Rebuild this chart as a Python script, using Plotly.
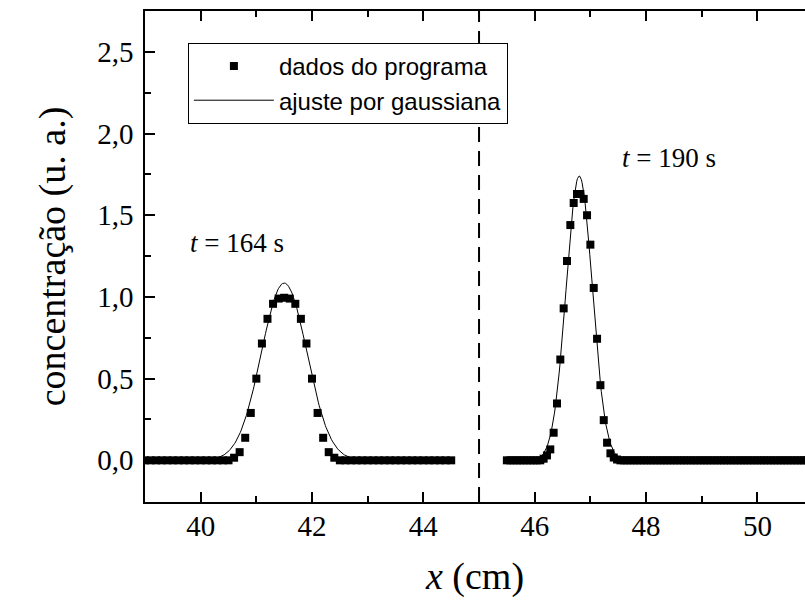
import numpy as np
import plotly.graph_objects as go

# ---------------- data ----------------
left_x = [39.0, 39.1, 39.2, 39.3, 39.4, 39.5, 39.6, 39.7, 39.8, 39.9,
          40.0, 40.1, 40.2, 40.3, 40.4, 40.5, 40.6, 40.7, 40.8, 40.9,
          41.0, 41.1, 41.2, 41.3, 41.4, 41.5, 41.6, 41.7, 41.8, 41.9,
          42.0, 42.1, 42.2, 42.3, 42.4, 42.5, 42.6, 42.7, 42.8, 42.9,
          43.0, 43.1, 43.2, 43.3, 43.4, 43.5, 43.6, 43.7, 43.8, 43.9,
          44.0, 44.1, 44.2, 44.3, 44.4, 44.5]
left_y = [0, 0, 0, 0, 0, 0, 0, 0, 0, 0,
          0, 0, 0, 0, 0, 0, 0.016, 0.05, 0.138, 0.29,
          0.50, 0.715, 0.866, 0.958, 0.99, 0.995, 0.99, 0.958, 0.866, 0.715,
          0.50, 0.29, 0.138, 0.05, 0.016, 0, 0, 0, 0, 0,
          0, 0, 0, 0, 0, 0, 0, 0, 0, 0,
          0, 0, 0, 0, 0, 0]

right_x = [45.50, 45.56, 45.62, 45.68, 45.74, 45.80, 45.86, 45.92, 45.98, 46.04,
           46.10, 46.16, 46.22, 46.28, 46.34, 46.40, 46.46, 46.52, 46.58, 46.64,
           46.70, 46.76, 46.82, 46.88, 46.94, 47.00, 47.06, 47.12, 47.18, 47.24,
           47.30, 47.36, 47.42, 47.48, 47.54, 47.60, 47.66, 47.72, 47.78, 47.84,
           47.90, 47.96, 48.02, 48.08, 48.14, 48.20, 48.26, 48.32, 48.38, 48.44,
           48.50, 48.56, 48.62, 48.68, 48.74, 48.80, 48.86, 48.92, 48.98, 49.04,
           49.10, 49.16, 49.22, 49.28, 49.34, 49.40, 49.46, 49.52, 49.58, 49.64,
           49.70, 49.76, 49.82, 49.88, 49.94, 50.00, 50.06, 50.12, 50.18, 50.24,
           50.30, 50.36, 50.42, 50.48, 50.54, 50.60, 50.66, 50.72, 50.78, 50.84,
           50.90, 50.96, 51.02]
right_y = [0, 0, 0, 0, 0, 0, 0, 0, 0, 0,
           0, 0.01, 0.03, 0.067, 0.169, 0.348, 0.617, 0.93, 1.22, 1.44,
           1.575, 1.63, 1.63, 1.60, 1.50, 1.32, 1.055, 0.744, 0.46, 0.246,
           0.108, 0.043, 0.017, 0.005, 0, 0, 0, 0, 0, 0,
           0, 0, 0, 0, 0, 0, 0, 0, 0, 0,
           0, 0, 0, 0, 0, 0, 0, 0, 0, 0,
           0, 0, 0, 0, 0, 0, 0, 0, 0, 0,
           0, 0, 0, 0, 0, 0, 0, 0, 0, 0,
           0, 0, 0, 0, 0, 0, 0, 0, 0, 0,
           0, 0, 0]

# Gaussian fit parameters (amplitude, centre, sigma) and fitted x-span
fit_left = dict(A=1.085, xc=41.5, w=0.41, x0=39.0, x1=44.5)
fit_right = dict(A=1.74, xc=46.80, w=0.235, x0=45.5, x1=51.0)

divider_x = 45.0
x_ticks = [40, 42, 44, 46, 48, 50]
labels = [("<i>t</i> = 164 s", 40.65, 1.33), ("<i>t</i> = 190 s", 48.42, 1.85)]

SERIF = "'Liberation Serif', 'Times New Roman', Times, serif"
SANS = "'Liberation Sans', Arial, sans-serif"


def gauss_curve(p):
    xs = np.linspace(p["x0"], p["x1"], 400)
    return xs, p["A"] * np.exp(-((xs - p["xc"]) ** 2) / (2 * p["w"] ** 2))


fig = go.Figure()

for i, (xs, ys) in enumerate([(left_x, left_y), (right_x, right_y)]):
    fig.add_trace(go.Scatter(
        x=xs, y=ys, mode="markers", name="dados do programa",
        legendgroup="d", showlegend=(i == 0),
        marker=dict(symbol="square", size=8, color="black", line=dict(width=0)),
    ))

for i, p in enumerate([fit_left, fit_right]):
    fx, fy = gauss_curve(p)
    fig.add_trace(go.Scatter(
        x=fx, y=fy, mode="lines", name="ajuste por gaussiana",
        legendgroup="f", showlegend=(i == 0),
        line=dict(color="black", width=1),
    ))

fig.add_shape(type="line", xref="x", yref="paper", x0=divider_x, x1=divider_x,
              y0=0, y1=1, line=dict(color="black", width=2, dash="15px,9px"))

for txt, ax, ay in labels:
    fig.add_annotation(x=ax, y=ay, xref="x", yref="y", text=txt, showarrow=False,
                       font=dict(family=SERIF, size=27, color="black"))

fig.update_layout(
    width=805, height=606,
    margin=dict(l=145, r=0, t=11, b=104),
    paper_bgcolor="white", plot_bgcolor="white",
    separators=",.",
    showlegend=True,
    legend=dict(x=0.065, y=0.935, xanchor="left", yanchor="top",
                bordercolor="black", borderwidth=1, bgcolor="white",
                font=dict(family=SANS, size=24, color="black"),
                tracegroupgap=0, itemwidth=80),
    font=dict(family=SERIF, color="black"),
)

fig.update_xaxes(
    range=[39, 50.855], showgrid=False, zeroline=False,
    showline=True, linecolor="black", linewidth=1.5, mirror="allticks",
    ticks="inside", ticklen=10, tickwidth=1.5, tickcolor="black",
    tickvals=x_ticks, tickfont=dict(family=SERIF, size=29, color="black"),
    ticklabelstandoff=-3,
    minor=dict(ticks="inside", ticklen=6, tickwidth=1.5, tickcolor="black", dtick=1, showgrid=False),
    title=dict(text="<i>x</i> (cm)", font=dict(family=SERIF, size=38, color="black"), standoff=22),
)
fig.update_yaxes(
    range=[-0.255, 2.75], showgrid=False, zeroline=False,
    showline=True, linecolor="black", linewidth=1.5, mirror=False,
    ticks="inside", ticklen=10, tickwidth=1.5, tickcolor="black",
    dtick=0.5, tick0=0, tickformat=".1f",
    tickfont=dict(family=SERIF, size=29, color="black"),
    ticklabelstandoff=4,
    minor=dict(ticks="inside", ticklen=6, tickwidth=1.5, tickcolor="black", dtick=0.25, showgrid=False),
    title=dict(text="concentração (u. a.)", font=dict(family=SERIF, size=38, color="black"), standoff=20),
)

fig.write_html("out.html")
